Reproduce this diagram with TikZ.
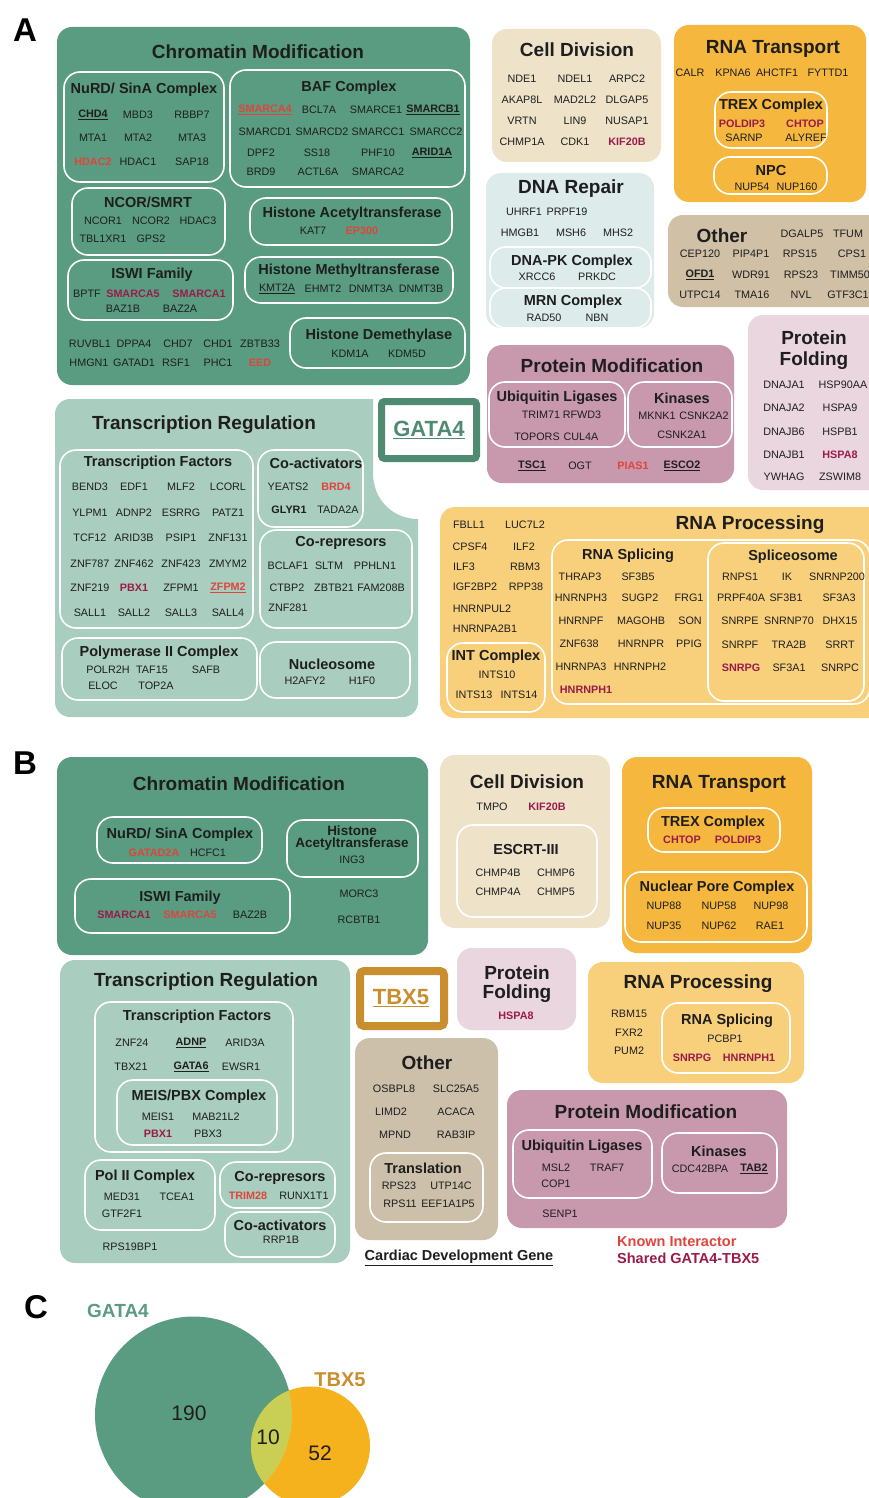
\documentclass[tikz,border=0pt]{standalone}
\usepackage{fontspec}
\setmainfont{Liberation Sans}

\definecolor{ink}{HTML}{1E1E1E}
\definecolor{cmod}{HTML}{5A9C82}
\definecolor{tregreen}{HTML}{A9CDBF}
\definecolor{celldiv}{HTML}{EEE3C9}
\definecolor{rnatr}{HTML}{F5B73E}
\definecolor{dnarep}{HTML}{DDEBEA}
\definecolor{othA}{HTML}{CFC0A6}
\definecolor{othB}{HTML}{CCC0AA}
\definecolor{pfold}{HTML}{EAD6DF}
\definecolor{pmod}{HTML}{C898AC}
\definecolor{rnaproc}{HTML}{F8D07C}
\definecolor{knownred}{HTML}{E0443A}
\definecolor{sharedred}{HTML}{9A1B4B}
\definecolor{gatagreen}{HTML}{4F8B70}
\definecolor{tbxgold}{HTML}{C98E2E}
\definecolor{venngreen}{HTML}{5A9C82}
\definecolor{vennorange}{HTML}{F6B21D}
\definecolor{venny}{HTML}{C9CF55}

\newcommand{\knw}[1]{\textcolor{knownred}{\textbf{#1}}}
\newcommand{\shr}[1]{\textcolor{sharedred}{\textbf{#1}}}
\newcommand{\card}[1]{\textbf{\underline{#1}}}
% one row of gene names: name, y, list of x/gene
\newcommand{\generow}[3]{\foreach \x/\g [count=\i] in {#3} {\node[gene] (#1-\i) at (\x,#2) {\g};}}

\begin{document}
\begin{tikzpicture}[x=1pt,y=-1pt]
\tikzstyle{gene}=[font=\fontsize{10.8}{12}\selectfont, text=ink, inner sep=0pt]
\tikzstyle{ttl}=[font=\fontsize{19}{21}\selectfont\bfseries, text=ink, inner sep=0pt]
\tikzstyle{sub}=[font=\fontsize{14.5}{15}\selectfont\bfseries, text=ink, inner sep=0pt]
\tikzstyle{grp}=[draw=white, line width=1.6pt, rounded corners=16pt]
\tikzstyle{cat}=[rounded corners=15pt]
\tikzstyle{lbl}=[font=\fontsize{33}{35}\selectfont\bfseries, text=black, inner sep=0pt]
\tikzstyle{leg}=[font=\fontsize{14.5}{16}\selectfont\bfseries, inner sep=0pt]
\useasboundingbox (0,0) rectangle (868,1498);
\fill[white] (0,0) rectangle (868,1498);

%% panel A
\node[lbl] (labA) at (25,30) {A};

% chromatin modification
\fill[cat, cmod] (57,27) rectangle (470,385);
\node[ttl] (cmA) at (258,52) {Chromatin Modification};
\draw[grp] (64,72) rectangle (224,182);
\node[sub] (nurdA) at (144,90) {NuRD/ SinA Complex};
\generow{nurdA1}{115}{93/\card{CHD4}, 138/MBD3, 192/RBBP7}
\generow{nurdA2}{138}{93/MTA1, 138/MTA2, 192/MTA3}
\generow{nurdA3}{162}{93/\knw{HDAC2}, 138/HDAC1, 192/SAP18}
\draw[grp] (230,70) rectangle (465,187);
\node[sub] (bafA) at (349,88) {BAF Complex};
\generow{bafA1}{110}{265/\knw{\underline{SMARCA4}}, 319/BCL7A, 376/SMARCE1, 433/\card{SMARCB1}}
\generow{bafA2}{132}{265/SMARCD1, 322/SMARCD2, 378/SMARCC1, 436/SMARCC2}
\generow{bafA3}{153}{261/DPF2, 317/SS18, 378/PHF10, 432/\card{ARID1A}}
\generow{bafA4}{172}{261/BRD9, 318/ACTL6A, 378/SMARCA2}
\draw[grp] (72,188) rectangle (225,255);
\node[sub] (ncorA) at (148,202) {NCOR/SMRT};
\generow{ncorA1}{221}{103/NCOR1, 151/NCOR2, 198/HDAC3}
\generow{ncorA2}{239}{103/TBL1XR1, 151/GPS2}
\draw[grp] (250,198) rectangle (452,245);
\node[sub] (hatA) at (352,214) {Histone Acetyltransferase};
\generow{hatA1}{231}{313/KAT7, 362/\knw{EP300}}
\draw[grp] (68,260) rectangle (233,320);
\node[sub] (iswiA) at (152,275) {ISWI Family};
\generow{iswiA1}{294}{87/BPTF, 133/\shr{SMARCA5}, 199/\shr{SMARCA1}}
\generow{iswiA2}{309}{123/BAZ1B, 180/BAZ2A}
\draw[grp] (245,257) rectangle (453,303);
\node[sub] (hmtA) at (349,271) {Histone Methyltransferase};
\generow{hmtA1}{289}{277/\underline{KMT2A}, 323/EHMT2, 371/DNMT3A, 421/DNMT3B}
\draw[grp] (290,318) rectangle (465,368);
\node[sub] (hdmA) at (379,336) {Histone Demethylase};
\generow{hdmA1}{354}{350/KDM1A, 407/KDM5D}
\generow{cmA1}{344}{90/RUVBL1, 134/DPPA4, 178/CHD7, 218/CHD1, 260/ZBTB33}
\generow{cmA2}{363}{89/HMGN1, 134/GATAD1, 176/RSF1, 218/PHC1, 260/\knw{EED}}

% cell division
\fill[cat, celldiv] (492,29) rectangle (661,162);
\node[ttl] (cdA) at (577,50) {Cell Division};
\generow{cdA1}{79}{522/NDE1, 575/NDEL1, 627/ARPC2}
\generow{cdA2}{100}{522/AKAP8L, 575/MAD2L2, 627/DLGAP5}
\generow{cdA3}{121}{522/VRTN, 575/LIN9, 627/NUSAP1}
\generow{cdA4}{142}{522/CHMP1A, 575/CDK1, 627/\shr{KIF20B}}

% rna transport
\fill[cat, rnatr] (674,25) rectangle (866,202);
\node[ttl] (rtA) at (773,49) {RNA Transport};
\generow{rtA1}{73}{690/CALR, 733/KPNA6, 777/AHCTF1, 828/FYTTD1}
\draw[grp] (715,92) rectangle (827,148);
\node[sub] (trexA) at (771,106) {TREX Complex};
\generow{trexA1}{124}{742/\shr{POLDIP3}, 805/\shr{CHTOP}}
\generow{trexA2}{138}{744/SARNP, 806/ALYREF}
\draw[grp] (714,157) rectangle (827,194);
\node[sub] (npcA) at (771,171) {NPC};
\generow{npcA1}{187}{752/NUP54, 797/NUP160}

% dna repair
\fill[cat, dnarep] (486,173) rectangle (654,328);
\node[ttl] (drA) at (571,189) {DNA Repair};
\generow{drA1}{212}{524/UHRF1, 567/PRPF19}
\generow{drA2}{233}{520/HMGB1, 571/MSH6, 618/MHS2}
\draw[grp] (490,247) rectangle (651,288);
\node[sub] (dnapkA) at (572,262) {DNA-PK Complex};
\generow{dnapkA1}{277}{537/XRCC6, 597/PRKDC}
\draw[grp] (490,288) rectangle (651,328);
\node[sub] (mrnA) at (573,302) {MRN Complex};
\generow{mrnA1}{318}{544/RAD50, 597/NBN}

% other
\fill[cat, othA] (668,215) rectangle (885,307);
\node[ttl] (otA) at (722,236) {Other};
\generow{otA1}{234}{802/DGALP5, 848/TFUM}
\generow{otA2}{254}{700/CEP120, 751/PIP4P1, 800/RPS15, 852/CPS1}
\generow{otA3}{275}{700/\card{OFD1}, 751/WDR91, 801/RPS23, 850/TIMM50}
\generow{otA4}{295}{700/UTPC14, 752/TMA16, 801/NVL, 848/GTF3C1}

% protein folding
\fill[cat, pfold] (748,315) rectangle (885,490);
\node[ttl] (pfA1) at (814,338) {Protein};
\node[ttl] (pfA2) at (814,361) {Folding};
\generow{pfA3}{385}{784/DNAJA1, 843/HSP90AA}
\generow{pfA4}{408}{784/DNAJA2, 840/HSPA9}
\generow{pfA5}{432}{784/DNAJB6, 840/HSPB1}
\generow{pfA6}{455}{784/DNAJB1, 840/\shr{HSPA8}}
\generow{pfA7}{477}{784/YWHAG, 840/ZSWIM8}

% protein modification
\fill[cat, pmod] (487,345) rectangle (734,483);
\node[ttl] (pmA) at (612,366) {Protein Modification};
\draw[grp] (489,382) rectangle (625,447);
\node[sub] (ubA) at (557,398) {Ubiquitin Ligases};
\generow{ubA1}{415}{541/TRIM71, 582/RFWD3}
\generow{ubA2}{437}{537/TOPORS, 581/CUL4A}
\draw[grp] (628,382) rectangle (732,447);
\node[sub] (kinA) at (682,398) {Kinases};
\generow{kinA1}{416}{657/MKNK1, 704/CSNK2A2}
\generow{kinA2}{435}{682/CSNK2A1}
\generow{pmA1}{466}{532/\card{TSC1}, 580/OGT, 633/\knw{PIAS1}, 682/\card{ESCO2}}

% bait
\draw[draw=gatagreen, line width=7pt, fill=white, rounded corners=3pt] (381.5,401.5) rectangle (476.5,458.5);
\node[font=\fontsize{22}{24}\selectfont\bfseries, text=gatagreen] (gata) at (429,430) {\underline{GATA4}};

% transcription regulation
\fill[tregreen] (70,399) -- (373,399) -- (373,473) .. controls (373,500) and (393,519) .. (418,519)
  -- (418,702) arc[start angle=0, end angle=90, radius=15] -- (70,717)
  arc[start angle=90, end angle=180, radius=15] -- (55,414)
  arc[start angle=180, end angle=270, radius=15] -- cycle;
\node[ttl] (trA) at (204,425) {Transcription Regulation};
\draw[grp] (60,450) rectangle (253,628);
\node[sub] (tfA) at (158,463) {Transcription Factors};
\generow{tfA1}{487}{90/BEND3, 134/EDF1, 181/MLF2, 228/LCORL}
\generow{tfA2}{513}{90/YLPM1, 134/ADNP2, 181/ESRRG, 228/PATZ1}
\generow{tfA3}{538}{90/TCF12, 134/ARID3B, 181/PSIP1, 228/ZNF131}
\generow{tfA4}{564}{90/ZNF787, 134/ZNF462, 181/ZNF423, 228/ZMYM2}
\generow{tfA5}{588}{90/ZNF219, 134/\shr{PBX1}, 181/ZFPM1, 228/\knw{\underline{ZFPM2}}}
\generow{tfA6}{613}{90/SALL1, 134/SALL2, 181/SALL3, 228/SALL4}
\draw[grp] (258,450) rectangle (363,527);
\node[sub] (coaA) at (316,463) {Co-activators};
\generow{coaA1}{487}{288/YEATS2, 336/\knw{BRD4}}
\generow{coaA2}{510}{289/\textbf{GLYR1}, 338/TADA2A}
\draw[grp] (260,530) rectangle (412,628);
\node[sub] (corA) at (341,543) {Co-represors};
\generow{corA1}{566}{288/BCLAF1, 329/SLTM, 375/PPHLN1}
\generow{corA2}{588}{287/CTBP2, 334/ZBTB21, 381/FAM208B}
\generow{corA3}{608}{288/ZNF281}
\draw[grp] (62,638) rectangle (257,700);
\node[sub] (polA) at (159,653) {Polymerase II Complex};
\generow{polA1}{670}{108/POLR2H, 152/TAF15, 206/SAFB}
\generow{polA2}{686}{103/ELOC, 156/TOP2A}
\draw[grp] (260,642) rectangle (410,698);
\node[sub] (nucA) at (332,664) {Nucleosome};
\generow{nucA1}{681}{305/H2AFY2, 362/H1F0}

% rna processing
\fill[cat, rnaproc] (440,507) rectangle (885,718);
\node[ttl] (rpA) at (750,525) {RNA Processing};
\generow{rpA1}{525}{469/FBLL1, 525/LUC7L2}
\generow{rpA2}{547}{470/CPSF4, 524/ILF2}
\generow{rpA3}{567}{464/ILF3, 525/RBM3}
\generow{rpA4}{587}{475/IGF2BP2, 526/RPP38}
\generow{rpA5}{609}{482/HNRNPUL2}
\generow{rpA6}{629}{485/HNRNPA2B1}
\draw[grp] (447,643) rectangle (545,712);
\node[sub] (intA) at (496,657) {INT Complex};
\generow{intA1}{675}{497/INTS10}
\generow{intA2}{695}{474/INTS13, 519/INTS14}
\draw[grp] (552,540) rectangle (870,704);
\node[sub] (rsA) at (628,556) {RNA Splicing};
\generow{rsA1}{577}{580/THRAP3, 638/SF3B5}
\generow{rsA2}{598}{581/HNRNPH3, 640/SUGP2, 689/FRG1}
\generow{rsA3}{621}{581/HNRNPF, 641/MAGOHB, 690/SON}
\generow{rsA4}{644}{579/ZNF638, 641/HNRNPR, 689/PPIG}
\generow{rsA5}{667}{581/HNRNPA3, 640/HNRNPH2}
\generow{rsA6}{690}{586/\shr{HNRNPH1}}
\draw[grp] (708,543) rectangle (864,701);
\node[sub] (spA) at (793,557) {Spliceosome};
\generow{spA1}{577}{740/RNPS1, 787/IK, 837/SNRNP200}
\generow{spA2}{598}{741/PRPF40A, 786/SF3B1, 839/SF3A3}
\generow{spA3}{621}{740/SNRPE, 789/SNRNP70, 840/DHX15}
\generow{spA4}{645}{740/SNRPF, 789/TRA2B, 840/SRRT}
\generow{spA5}{668}{741/\shr{SNRPG}, 789/SF3A1, 840/SNRPC}

%% panel B
\node[lbl] (labB) at (25,763) {B};

% chromatin modification
\fill[cat, cmod] (57,757) rectangle (428,955);
\node[ttl] (cmB) at (239,784) {Chromatin Modification};
\draw[grp] (97,817) rectangle (262,863);
\node[sub] (nurdB) at (180,835) {NuRD/ SinA Complex};
\generow{nurdB1}{853}{154/\knw{GATAD2A}, 208/HCFC1}
\draw[grp] (287,820) rectangle (418,877);
\node[sub, font=\fontsize{13.5}{14}\selectfont\bfseries] (hatB1) at (352,831) {Histone};
\node[sub, font=\fontsize{13.5}{14}\selectfont\bfseries] (hatB2) at (352,844) {Acetyltransferase};
\generow{hatB}{860}{352/ING3}
\draw[grp] (75,879) rectangle (290,933);
\node[sub] (iswiB) at (180,898) {ISWI Family};
\generow{iswiB1}{915}{124/\shr{SMARCA1}, 190/\knw{SMARCA5}, 250/BAZ2B}
\generow{cmB1}{894}{359/MORC3}
\generow{cmB2}{920}{359/RCBTB1}

% cell division
\fill[cat, celldiv] (440,755) rectangle (610,928);
\node[ttl] (cdB) at (527,782) {Cell Division};
\generow{cdB1}{807}{492/TMPO, 547/\shr{KIF20B}}
\draw[grp] (457,825) rectangle (597,917);
\node[sub] (escB) at (526,849) {ESCRT-III};
\generow{escB1}{873}{498/CHMP4B, 556/CHMP6}
\generow{escB2}{892}{498/CHMP4A, 556/CHMP5}

% rna transport
\fill[cat, rnatr] (622,757) rectangle (812,953);
\node[ttl] (rtB) at (719,784) {RNA Transport};
\draw[grp] (648,808) rectangle (780,852);
\node[sub] (trexB) at (713,823) {TREX Complex};
\generow{trexB1}{840}{682/\shr{CHTOP}, 738/\shr{POLDIP3}}
\draw[grp] (625,872) rectangle (807,942);
\node[sub] (npcB) at (717,888) {Nuclear Pore Complex};
\generow{npcB1}{906}{664/NUP88, 719/NUP58, 771/NUP98}
\generow{npcB2}{926}{664/NUP35, 719/NUP62, 770/RAE1}

% transcription regulation
\fill[cat, tregreen] (60,960) rectangle (350,1263);
\node[ttl] (trB) at (206,982) {Transcription Regulation};
\draw[grp] (95,1002) rectangle (293,1152);
\node[sub] (tfB) at (197,1017) {Transcription Factors};
\generow{tfB1}{1043}{132/ZNF24, 191/\card{ADNP}, 245/ARID3A}
\generow{tfB2}{1067}{131/TBX21, 191/\card{GATA6}, 241/EWSR1}
\draw[grp] (117,1080) rectangle (277,1145);
\node[sub] (meisB) at (199,1097) {MEIS/PBX Complex};
\generow{meisB1}{1117}{158/MEIS1, 216/MAB21L2}
\generow{meisB2}{1134}{158/\shr{PBX1}, 208/PBX3}
\draw[grp] (85,1160) rectangle (215,1230);
\node[sub] (polB) at (145,1177) {Pol II Complex};
\generow{polB1}{1197}{122/MED31, 177/TCEA1}
\generow{polB2}{1214}{122/GTF2F1}
\draw[grp] (220,1162) rectangle (335,1208);
\node[sub] (corB) at (280,1178) {Co-represors};
\generow{corB1}{1196}{248/\knw{TRIM28}, 304/RUNX1T1}
\draw[grp] (225,1212) rectangle (335,1257);
\node[sub] (coaB) at (280,1225) {Co-activators};
\generow{coaB1}{1240}{281/RRP1B}
\generow{trB1}{1247}{130/RPS19BP1}

% bait
\draw[draw=tbxgold, line width=8pt, fill=white, rounded corners=4pt] (360,971) rectangle (444,1026);
\node[font=\fontsize{22}{24}\selectfont\bfseries, text=tbxgold] (tbx) at (401,998) {\underline{TBX5}};

% protein folding
\fill[cat, pfold] (457,948) rectangle (576,1030);
\node[ttl] (pfB1) at (517,973) {Protein};
\node[ttl] (pfB2) at (517,994) {Folding};
\generow{pfB3}{1016}{516/\shr{HSPA8}}

% rna processing
\fill[cat, rnaproc] (588,962) rectangle (804,1083);
\node[ttl] (rpB) at (698,984) {RNA Processing};
\generow{rpB1}{1014}{629/RBM15}
\generow{rpB2}{1033}{629/FXR2}
\generow{rpB3}{1051}{629/PUM2}
\draw[grp] (662,1003) rectangle (790,1073);
\node[sub] (rsB) at (727,1021) {RNA Splicing};
\generow{rsB1}{1039}{725/PCBP1}
\generow{rsB2}{1058}{692/\shr{SNRPG}, 749/\shr{HNRNPH1}}

% other
\fill[cat, othB] (355,1038) rectangle (498,1240);
\node[ttl] (otB) at (427,1063) {Other};
\generow{otB1}{1089}{394/OSBPL8, 456/SLC25A5}
\generow{otB2}{1112}{391/LIMD2, 456/ACACA}
\generow{otB3}{1135}{395/MPND, 456/RAB3IP}
\draw[grp] (370,1153) rectangle (483,1222);
\node[sub] (trlB) at (423,1168) {Translation};
\generow{trlB1}{1186}{399/RPS23, 451/UTP14C}
\generow{trlB2}{1204}{400/RPS11, 448/EEF1A1P5}

% protein modification
\fill[cat, pmod] (507,1090) rectangle (787,1228);
\node[ttl] (pmB) at (646,1112) {Protein Modification};
\draw[grp] (513,1130) rectangle (652,1198);
\node[sub] (ubB) at (582,1147) {Ubiquitin Ligases};
\generow{ubB1}{1168}{556/MSL2, 607/TRAF7}
\generow{ubB2}{1184}{556/COP1}
\draw[grp] (662,1133) rectangle (777,1193);
\node[sub] (kinB) at (719,1151) {Kinases};
\generow{kinB1}{1169}{700/CDC42BPA, 754/\card{TAB2}}
\generow{pmB1}{1214}{560/SENP1}

% legend
\node[leg, text=ink] (legcard) at (459,1258) {\underline{Cardiac Development Gene}};
\node[leg, text=knownred, anchor=west] (legknown) at (617,1242) {Known Interactor};
\node[leg, text=sharedred, anchor=west] (legshared) at (617,1258) {Shared GATA4-TBX5};

%% panel C
\node[lbl] (labC) at (36,1307) {C};
\begin{scope}
\clip (0,1290) rectangle (868,1498);
\fill[venngreen] (193.5,1415) circle (98.5);
\fill[vennorange] (310.5,1446) circle (59.5);
\begin{scope}
\clip (193.5,1415) circle (98.5);
\fill[venny] (310.5,1446) circle (59.5);
\end{scope}
\end{scope}
\node[font=\fontsize{19}{21}\selectfont\bfseries, text=venngreen] (vgata) at (118,1311) {GATA4};
\node[font=\fontsize{20}{22}\selectfont\bfseries, text=tbxgold] (vtbx) at (340,1380) {TBX5};
\node[font=\fontsize{21}{23}\selectfont, text=ink] (n190) at (189,1413) {190};
\node[font=\fontsize{21}{23}\selectfont, text=ink] (n10) at (268,1437) {10};
\node[font=\fontsize{21}{23}\selectfont, text=ink] (n52) at (320,1453) {52};
\end{tikzpicture}
\end{document}
